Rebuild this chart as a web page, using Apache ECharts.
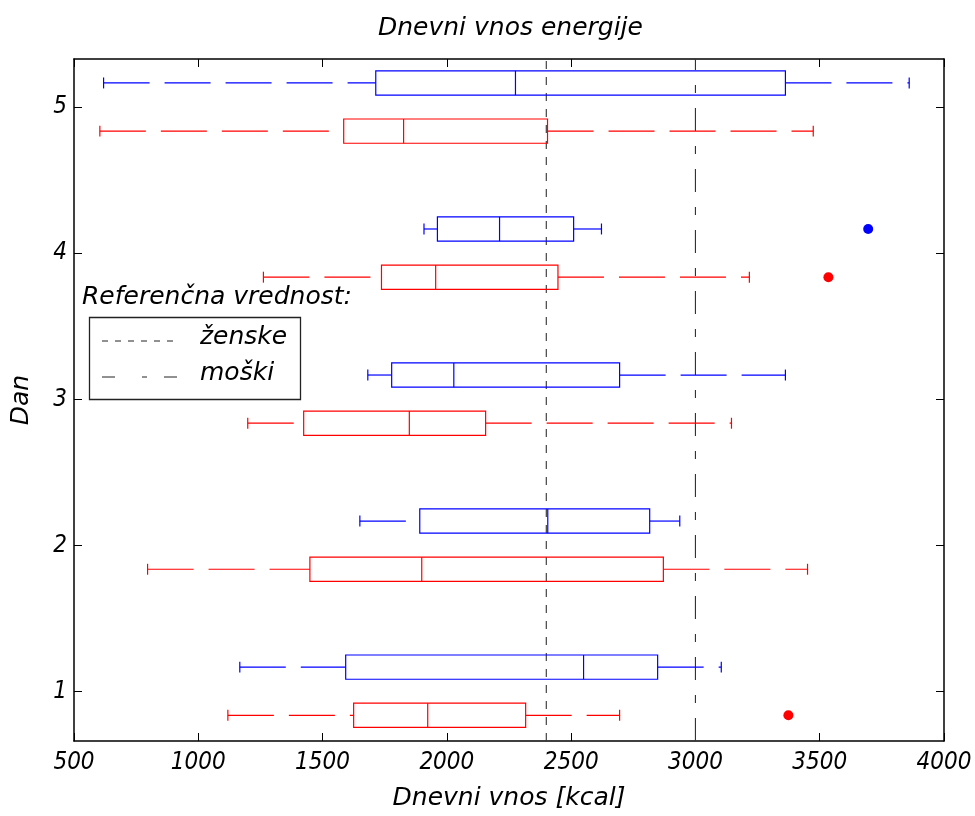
<!DOCTYPE html>
<html>
<head>
<meta charset="utf-8">
<script src="https://cdn.jsdelivr.net/npm/echarts@6/dist/echarts.min.js"></script>
<style>html,body{margin:0;padding:0;background:#fff}#c{width:975px;height:816px}</style>
</head>
<body>
<div id="c"></div>
<script>
// ---- data ----
var days = [1, 2, 3, 4, 5];
var xTicks = [500, 1000, 1500, 2000, 2500, 3000, 3500, 4000];
var yTicks = [1, 2, 3, 4, 5];

// blue group (upper box per day)
var blueMin = [1167, 1650, 1682, 1908, 619];
var blueQ1  = [1593, 1891, 1778, 1962, 1714];
var blueMed = [2550, 2406, 2028, 2212, 2276];
var blueQ3  = [2848, 2816, 2695, 2510, 3362];
var blueMax = [3104, 2937, 3362, 2622, 3860];
var blueOutVal = [3695];
var blueOutDay = [4];

// red group (lower box per day)
var redMin = [1119, 796, 1199, 1262, 604];
var redQ1  = [1625, 1449, 1424, 1737, 1585];
var redMed = [1923, 1899, 1849, 1955, 1826];
var redQ3  = [2317, 2871, 2156, 2447, 2405];
var redMax = [2695, 3451, 3145, 3217, 3474];
var redOutVal = [3374, 3535];
var redOutDay = [1, 4];

// reference values
var refFemale = 2400;
var refMale = 3000;

// ---- layout / style ----
var TICKFONT = '"DejaVu Sans Condensed", "DejaVu Sans", sans-serif';
var TEXTFONT = '"DejaVu Sans", sans-serif';
var TFS = 24, FS = 25;
var Y_MIN = 0.66, Y_MAX = 5.33;
var BLUE = '#0000ff', RED = '#ff0000';

function boxSeries(name, color, off, mins, q1, med, q3, maxs) {
  var data = days.map(function (d, i) { return [d, mins[i], q1[i], med[i], q3[i], maxs[i]]; });
  return {
    name: name,
    type: 'custom',
    data: data,
    encode: { x: [1, 5], y: 0 },
    z: 5,
    renderItem: function (params, api) {
      var y = api.value(0) + off;
      var pMin = api.coord([api.value(1), y]);
      var pQ1 = api.coord([api.value(2), y]);
      var pMed = api.coord([api.value(3), y]);
      var pQ3 = api.coord([api.value(4), y]);
      var pMax = api.coord([api.value(5), y]);
      var bh = api.size([0, 0.083])[1];
      var ch = api.size([0, 0.0375])[1];
      var st = { stroke: color, lineWidth: 1.2, fill: null };
      var dash = { stroke: color, lineWidth: 1.2, lineDash: [46, 15] };
      return {
        type: 'group',
        children: [
          { type: 'line', shape: { x1: pMin[0], y1: pMin[1], x2: pQ1[0], y2: pQ1[1] }, style: dash },
          { type: 'line', shape: { x1: pQ3[0], y1: pQ3[1], x2: pMax[0], y2: pMax[1] }, style: dash },
          { type: 'line', shape: { x1: pMin[0], y1: pMin[1] - ch, x2: pMin[0], y2: pMin[1] + ch }, style: st },
          { type: 'line', shape: { x1: pMax[0], y1: pMax[1] - ch, x2: pMax[0], y2: pMax[1] + ch }, style: st },
          { type: 'rect', shape: { x: pQ1[0], y: pQ1[1] - bh, width: pQ3[0] - pQ1[0], height: 2 * bh }, style: st },
          { type: 'line', shape: { x1: pMed[0], y1: pMed[1] - bh, x2: pMed[0], y2: pMed[1] + bh }, style: st }
        ]
      };
    }
  };
}

function outlierSeries(color, off, vals, ds) {
  return {
    type: 'scatter',
    symbol: 'circle',
    symbolSize: 10,
    itemStyle: { color: color, opacity: 1 },
    z: 6,
    data: vals.map(function (v, i) { return [v, ds[i] + off]; })
  };
}

function refLine(val, dashArr) {
  return {
    type: 'line',
    symbol: 'none',
    silent: true,
    z: 2,
    lineStyle: { color: '#333', width: 1.1, type: dashArr },
    data: [[val, Y_MIN], [val, Y_MAX]]
  };
}

var axisLineStyle = { show: true, onZero: false, lineStyle: { color: '#000', width: 1.5 } };
var tickStyle = { show: true, inside: true, length: 8, lineStyle: { color: '#000', width: 1 } };
var tickTxt = { fontFamily: TICKFONT, fontStyle: 'italic', fontSize: TFS, color: '#000' };
var txt = { fontFamily: TEXTFONT, fontStyle: 'italic', fontSize: FS, color: '#000' };
var gfont = 'italic ' + FS + 'px ' + TEXTFONT;

var chart = echarts.init(document.getElementById('c'), null, { renderer: 'canvas' });
chart.setOption({
  animation: false,
  backgroundColor: '#fff',
  title: {
    text: 'Dnevni vnos energije',
    left: 373,
    top: 11,
    textStyle: Object.assign({ fontWeight: 'normal' }, txt)
  },
  grid: { left: 74, right: 31, top: 59, bottom: 73, containLabel: false },
  xAxis: [
    {
      type: 'value', position: 'bottom', min: 500, max: 4000, interval: 500,
      name: 'Dnevni vnos [kcal]', nameLocation: 'middle', nameGap: 45,
      nameTextStyle: txt,
      axisLine: axisLineStyle, axisTick: tickStyle, splitLine: { show: false },
      axisLabel: Object.assign({ margin: 10, formatter: function (v) { return String(v); } }, tickTxt)
    },
    {
      type: 'value', position: 'top', min: 500, max: 4000, interval: 500,
      axisLine: axisLineStyle, axisTick: tickStyle, splitLine: { show: false },
      axisLabel: { show: false }
    }
  ],
  yAxis: [
    {
      type: 'value', position: 'left', min: Y_MIN, max: Y_MAX,
      name: 'Dan', nameLocation: 'middle', nameGap: 40,
      nameTextStyle: txt,
      axisLine: axisLineStyle, splitLine: { show: false },
      axisLabel: Object.assign({ margin: 7, customValues: yTicks }, tickTxt),
      axisTick: Object.assign({ customValues: yTicks }, tickStyle)
    },
    {
      type: 'value', position: 'right', min: Y_MIN, max: Y_MAX,
      axisLine: axisLineStyle, splitLine: { show: false },
      axisLabel: { show: false, customValues: yTicks },
      axisTick: Object.assign({ customValues: yTicks }, tickStyle)
    }
  ],
  series: [
    refLine(refFemale, [8, 8]),
    refLine(refMale, [23, 15, 8, 15]),
    boxSeries('blue', BLUE, 0.166, blueMin, blueQ1, blueMed, blueQ3, blueMax),
    boxSeries('red', RED, -0.164, redMin, redQ1, redMed, redQ3, redMax),
    outlierSeries(BLUE, 0.166, blueOutVal, blueOutDay),
    outlierSeries(RED, -0.164, redOutVal, redOutDay)
  ],
  graphic: [
    { type: 'text', left: 82, top: 285, z: 20,
      style: { text: 'Referenčna vrednost:', font: gfont, fill: '#000' } },
    { type: 'rect', z: 20, shape: { x: 89.5, y: 317.5, width: 211, height: 82 },
      style: { fill: '#fff', stroke: '#222', lineWidth: 1.3 } },
    { type: 'line', z: 21, shape: { x1: 102, y1: 341, x2: 179, y2: 341 },
      style: { stroke: '#222', lineWidth: 1, lineDash: [6, 7] } },
    { type: 'line', z: 21, shape: { x1: 102, y1: 377, x2: 179, y2: 377 },
      style: { stroke: '#222', lineWidth: 1, lineDash: [13, 27, 5, 17] } },
    { type: 'text', left: 200, top: 325, z: 21,
      style: { text: 'ženske', font: gfont, fill: '#000' } },
    { type: 'text', left: 200, top: 361, z: 21,
      style: { text: 'moški', font: gfont, fill: '#000' } }
  ]
});
</script>
</body>
</html>
